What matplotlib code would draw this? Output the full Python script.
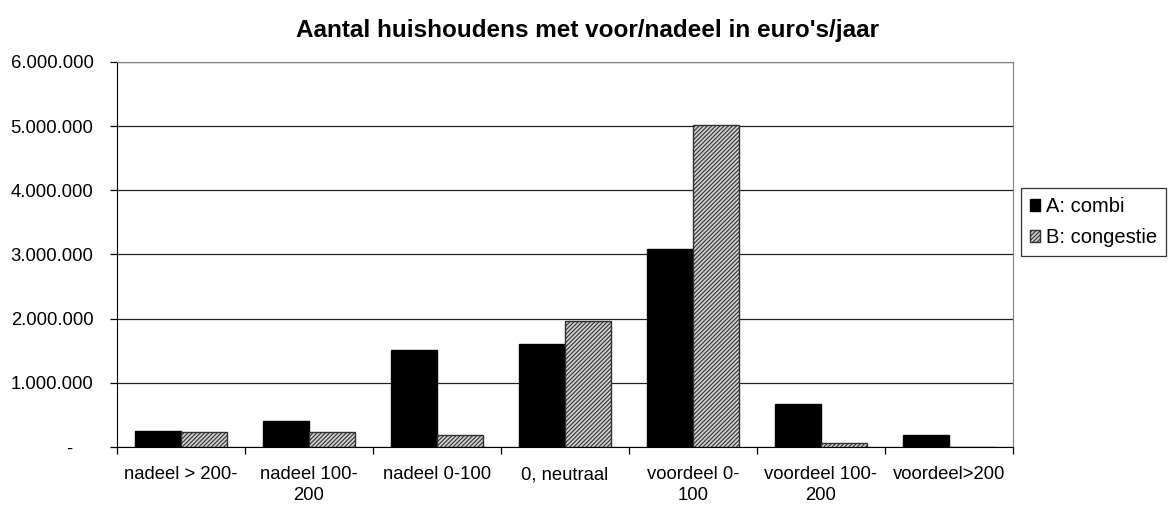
import numpy as np
import matplotlib.pyplot as plt
from matplotlib.ticker import FixedLocator, FuncFormatter

plt.rcParams['font.family'] = ['Liberation Sans', 'DejaVu Sans']
plt.rcParams['hatch.linewidth'] = 0.8

# Data
categories = ['nadeel > 200-', 'nadeel 100-\n200', 'nadeel 0-100', '0, neutraal',
              'voordeel 0-\n100', 'voordeel 100-\n200', 'voordeel>200']
combi = [250000, 400000, 1510000, 1610000, 3090000, 670000, 190000]
congestie = [230000, 230000, 180000, 1970000, 5020000, 70000, 0]
series_names = ['A: combi', 'B: congestie']
title = "Aantal huishoudens met voor/nadeel in euro's/jaar"

fig = plt.figure(figsize=(11.75, 5.07), dpi=100)
ax = fig.add_axes([117 / 1175, 1 - 447 / 507, 896 / 1175, 385 / 507])

x = np.arange(len(categories))
w = 0.36
ax.bar(x - w / 2, combi, w, color='black', edgecolor='black', linewidth=1,
       label=series_names[0], zorder=3)
ax.bar(x + w / 2, congestie, w, color='#d0d0d0', edgecolor='#303030',
       hatch='////////', linewidth=1, label=series_names[1], zorder=3)

ax.set_xlim(-0.5, len(categories) - 0.5)
ax.set_ylim(0, 6000000)
ax.yaxis.set_major_locator(FixedLocator(np.arange(0, 6000001, 1000000)))


def fmt(v, pos):
    if v == 0:
        return '-    '
    return f'{int(v):,}'.replace(',', '.')


ax.yaxis.set_major_formatter(FuncFormatter(fmt))
ax.grid(axis='y', color='#202020', linewidth=0.9, zorder=0)

ax.set_xticks(x)
ax.set_xticklabels(categories, linespacing=1.3)
ax.tick_params(axis='x', which='major', length=0, pad=14, labelsize=13.3)
ax.set_xticks(np.arange(-0.5, len(categories)), minor=True)
ax.tick_params(axis='x', which='minor', length=5, width=0.9, direction='out')
ax.tick_params(axis='y', length=5, width=0.9, direction='out', labelsize=13.3,
               pad=12)

for side in ['top', 'right']:
    ax.spines[side].set_color('#808080')
for side in ['left', 'bottom']:
    ax.spines[side].set_color('black')

fig.suptitle(title, x=0.5, y=1 - 31 / 507, va='center', fontsize=17.5,
             fontweight='bold')

leg = ax.legend(loc='center left', bbox_to_anchor=(1021 / 1175, 1 - 222 / 507),
                bbox_transform=fig.transFigure, fontsize=14.5, frameon=True,
                fancybox=False, edgecolor='black', handlelength=0.5,
                handleheight=0.5, handletextpad=0.3, borderpad=0.45,
                labelspacing=0.6, borderaxespad=0)
leg.get_frame().set_linewidth(0.9)

fig.savefig('out.png', dpi=100)
